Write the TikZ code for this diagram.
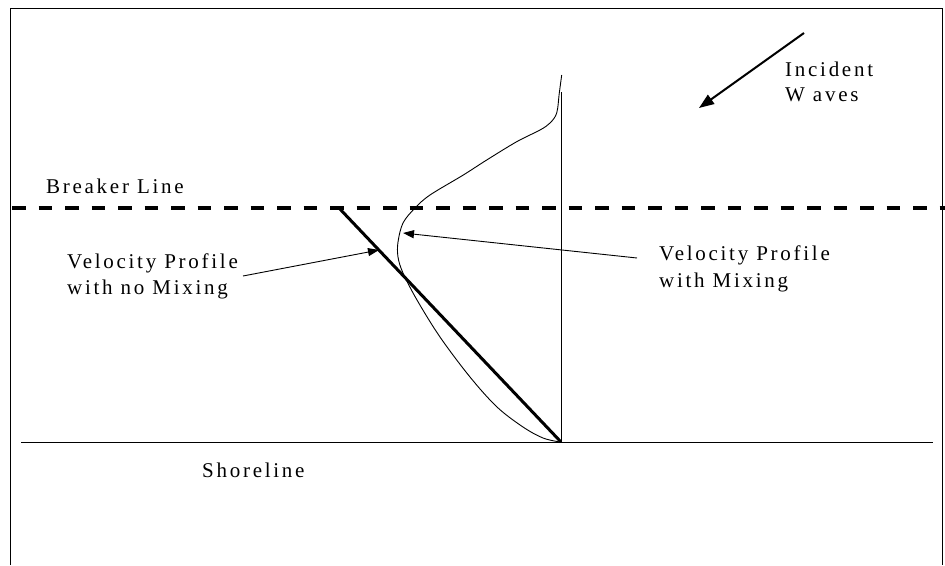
\documentclass[tikz,border=0pt]{standalone}
\usepackage{fontspec}
\setmainfont{Liberation Serif}[LetterSpace=13]
\usetikzlibrary{arrows.meta}
\begin{document}
\begin{tikzpicture}[x=1pt,y=-1pt,
  lbl/.style={anchor=base west,inner sep=0pt,font=\fontsize{21}{24}\selectfont},
  thin/.style={line width=1pt},
  ptr/.style={line width=0.9pt,-{Triangle[length=11pt,width=8pt]}},
  bigptr/.style={line width=2pt,-{Triangle[length=15pt,width=11pt]}}]
\useasboundingbox (0,0) rectangle (945,565);
\draw[line width=1.3pt] (10.5,565) -- (10.5,8.5) -- (942.5,8.5) -- (942.5,565);
% breaker line
\coordinate (blL) at (10,208);
\coordinate (blR) at (945,208);
\draw[line width=4pt,dash pattern=on 13.5pt off 13pt,dash phase=-2pt] (blL) -- (blR);
% shoreline
\coordinate (shL) at (21,442);
\coordinate (shR) at (933,442);
\draw[thin] (shL) -- (shR);
% vertical axis
\coordinate (top) at (561,92);
\coordinate (base) at (561,442);
\draw[thin] (top) -- (base);
% profile without mixing
\coordinate (nmTop) at (339,208);
\draw[line width=3pt] (nmTop) -- (base);
% profile with mixing
\draw[line width=0.9pt] plot[smooth,tension=0.55] coordinates {
 (561.7,75) (559.3,93) (556.7,113) (550,123) (540,130) (516.7,141.7)
 (486.7,160) (463.3,175) (430,195) (415,208) (403,223) (398,242)
 (398,257) (403,273) (417,300) (440,337) (470,377) (497,407)
 (523,427) (543,438) (560,442)};
% labels
\node[lbl] (inc1) at (785,76) {Incident};
\node[lbl] (inc2) at (785,101) {W aves};
\node[lbl] (brk) at (46,193) {Breaker Line};
\node[lbl] (nm1) at (67,268) {Velocity Profile};
\node[lbl] (nm2) at (67,294) {with no Mixing};
\node[lbl] (wm1) at (659,260) {Velocity Profile};
\node[lbl] (wm2) at (659,287) {with Mixing};
\node[lbl] (shore) at (202,477) {Shoreline};
% pointers
\coordinate (incS) at (804,33);
\coordinate (incT) at (699,108);
\draw[bigptr] (incS) -- (incT);
\coordinate (nmS) at (243,276);
\coordinate (nmT) at (379,250);
\draw[ptr] (nmS) -- (nmT);
\coordinate (wmS) at (637,258);
\coordinate (wmT) at (403,233);
\draw[ptr] (wmS) -- (wmT);
\end{tikzpicture}
\end{document}
